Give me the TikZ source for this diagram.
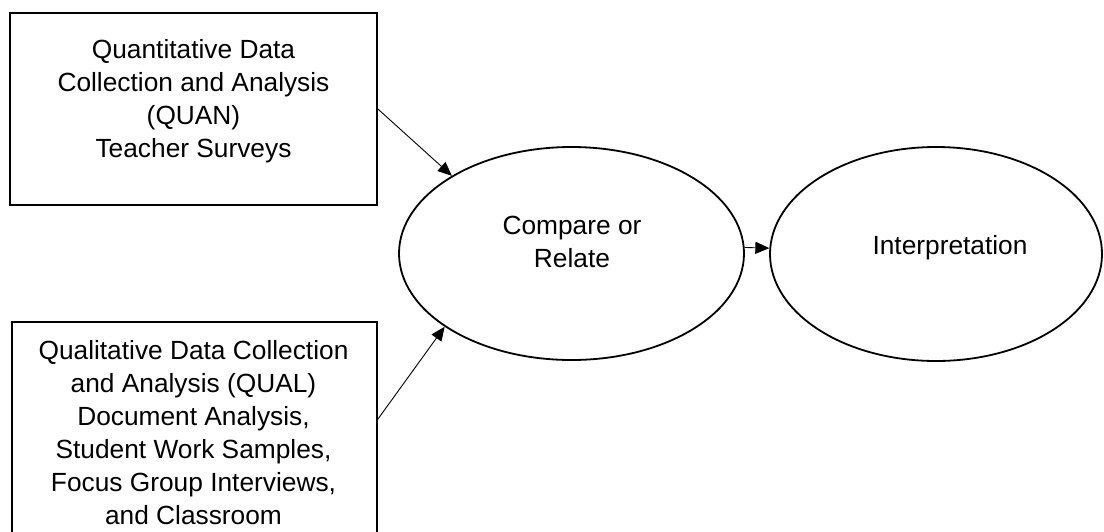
\documentclass[tikz,border=0pt]{standalone}
\usepackage{fontspec}
\setmainfont{Liberation Sans}
\usetikzlibrary{arrows.meta,shapes.geometric}
\begin{document}
\begin{tikzpicture}[x=1pt,y=-1pt,
  box/.style={draw=black,line width=1.8pt,rectangle,inner sep=0pt},
  oval/.style={draw=black,line width=1.8pt,ellipse,inner sep=0pt},
  txt/.style={inner sep=0pt,outer sep=0pt,align=center,anchor=north,
    font=\fontsize{26.3}{33}\selectfont},
  arr/.style={draw=black,line width=0.9pt,-{Triangle[length=14pt,width=12pt]}}]
\useasboundingbox (0,0) rectangle (1104,531);
\fill[white] (0,0) rectangle (1104,531);
\clip (0,0) rectangle (1104,531);
% boxes
\node[box,minimum width=367pt,minimum height=192pt] (quan) at (193.5,109) {};
\node[txt] (quantxt) at (193.5,39.5) {Quantitative Data\\Collection and Analysis\\(QUAN)\\Teacher Surveys};
\node[box,minimum width=365pt,minimum height=238pt] (qual) at (194.5,441) {};
\node[txt] (qualtxt) at (193.5,340.5) {Qualitative Data Collection\\and Analysis (QUAL)\\Document Analysis,\\Student Work Samples,\\Focus Group Interviews,\\and Classroom};
% ellipses
\node[oval,minimum width=345pt,minimum height=213pt] (cmp) at (571.5,253.5) {};
\node[txt] (cmptxt) at (572,216.5) {Compare or\\Relate};
\node[oval,minimum width=332pt,minimum height=214pt] (int) at (936,254) {};
\node[txt] (inttxt) at (950,235) {Interpretation};
% connectors
\draw[arr] (quan.east) -- (cmp.147.5);
\draw[arr] ([yshift=-98pt]qual.north east) -- (cmp.210);
\draw[arr] (cmp.2) -- (int.178);
\end{tikzpicture}
\end{document}
